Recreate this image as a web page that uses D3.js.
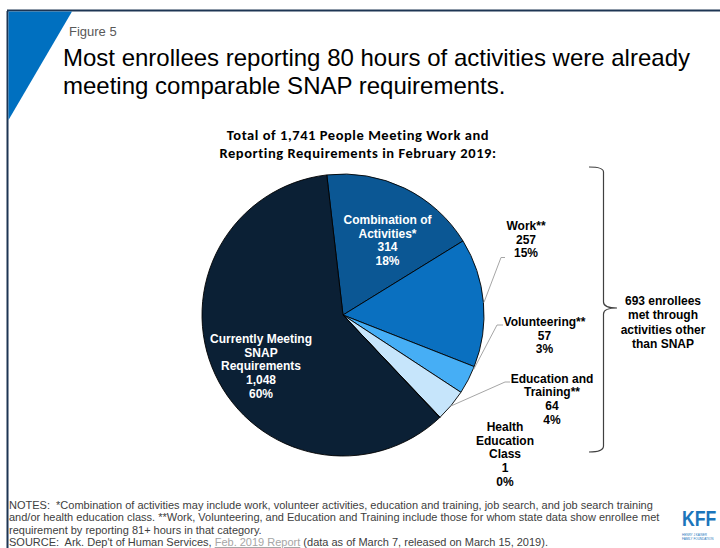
<!DOCTYPE html>
<html>
<head>
<meta charset="utf-8">
<script src="https://cdn.jsdelivr.net/npm/d3@7"></script>
<style>
  html, body { margin: 0; padding: 0; background: #fff; }
  svg { display: block; }
</style>
</head>
<body>
<svg id="chart" width="720" height="548"></svg>
<script>
// ---- data ----
const categories = ["Combination of Activities*", "Work**", "Volunteering**", "Education and Training**", "Health Education Class", "Currently Meeting SNAP Requirements"];
const values = [314, 257, 57, 64, 1, 1048];
const countLabels = ["314", "257", "57", "64", "1", "1,048"];
const pctLabels = ["18%", "15%", "3%", "4%", "0%", "60%"];
const nameLines = [["Combination of", "Activities*"], ["Work**"], ["Volunteering**"], ["Education and", "Training**"], ["Health", "Education", "Class"], ["Currently Meeting", "SNAP", "Requirements"]];
const total = 1741;
const otherTotal = 693;

// ---- styles / layout ----
const colors = ["#0b5794", "#0a70c0", "#46aef5", "#c6e5fb", "#e8f4fd", "#0b2035"];
const svg = d3.select("#chart");
const W = 720, H = 548;
const cx = 343, cy = 315, R = 141;
const startDeg = -6.6;

// frame
svg.append("rect").attr("x", 0).attr("y", 0).attr("width", W).attr("height", H).attr("fill", "#fff");
svg.append("path").attr("d", "M7.5,11 L7.5,548").attr("stroke", "#1d3553").attr("stroke-width", 2).attr("fill", "none");
svg.append("path").attr("d", "M7,10.5 L720,10.5").attr("stroke", "#1d3553").attr("stroke-width", 2).attr("fill", "none");
svg.append("path").attr("d", "M8.5,11.5 L72,11.5 L8.5,120 Z").attr("fill", "#0070c0");

// header
svg.append("text").attr("x", 69).attr("y", 36).attr("font-family", "Liberation Sans, Arial, sans-serif")
  .attr("font-size", 13).attr("fill", "#595959").text("Figure 5");
const title = svg.append("text").attr("font-family", "Liberation Sans, Arial, sans-serif")
  .attr("font-size", 24).attr("fill", "#000");
title.append("tspan").attr("x", 63).attr("y", 65.5).text("Most enrollees reporting 80 hours of activities were already");
title.append("tspan").attr("x", 63).attr("y", 94).text("meeting comparable SNAP requirements.");

const sub = svg.append("text").attr("font-family", "Carlito, Lato, sans-serif").attr("font-weight", 700)
  .attr("font-size", 14.5).attr("letter-spacing", 0.55).attr("text-anchor", "middle").attr("fill", "#000");
sub.append("tspan").attr("x", 358).attr("y", 139.5).text("Total of " + d3.format(",")(total) + " People Meeting Work and");
sub.append("tspan").attr("x", 358).attr("y", 158).text("Reporting Requirements in February 2019:");

// pie
const pie = d3.pie().sort(null).value(d => d)
  .startAngle(startDeg * Math.PI / 180).endAngle((startDeg + 360) * Math.PI / 180);
const arcs = pie(values);
const arc = d3.arc().innerRadius(0).outerRadius(R);
const g = svg.append("g").attr("transform", `translate(${cx},${cy})`);
g.selectAll("path.slice").data(arcs).enter().append("path")
  .attr("class", "slice")
  .attr("d", arc)
  .attr("fill", (d, i) => colors[i])
  .attr("stroke", "#000").attr("stroke-width", 0.9);

// labels: first-baseline/center for each category's label block, and leader elbow
const labelLayout = [
  { x: 387.5, y: 224, fill: "#fff" },
  { x: 526, y: 230, fill: "#000", leader: [[505, 257.5], [501, 257.5]] },
  { x: 544.5, y: 326, fill: "#000", leader: [[503, 325], [497, 325]], angleAdj: -4.5 },
  { x: 552, y: 382.5, fill: "#000", leader: [[510, 382], [505, 382]] },
  { x: 505, y: 431, fill: "#000" },
  { x: 261, y: 343, fill: "#fff" }
];
const lh = 13.7;
const labelG = svg.append("g").attr("font-family", "Liberation Sans, Arial, sans-serif")
  .attr("font-weight", 700).attr("font-size", 12).attr("text-anchor", "middle");
arcs.forEach((a, i) => {
  const L = labelLayout[i];
  const lines = nameLines[i].concat([countLabels[i], pctLabels[i]]);
  const t = labelG.append("text").attr("fill", L.fill);
  lines.forEach((ln, k) => t.append("tspan").attr("x", L.x).attr("y", L.y + k * lh).text(ln));
  if (L.leader) {
    const mid = (a.startAngle + a.endAngle) / 2 + (L.angleAdj || 0) * Math.PI / 180;
    const ex = cx + (R + 0.5) * Math.sin(mid), ey = cy - (R + 0.5) * Math.cos(mid);
    const pts = L.leader.concat([[ex, ey]]);
    svg.append("path").attr("d", d3.line()(pts)).attr("fill", "none")
      .attr("stroke", "#a6a6a6").attr("stroke-width", 1);
  }
});

// brace
svg.append("path")
  .attr("d", "M589,167 Q603.5,167 603.5,172 L603.5,302 Q603.5,308 617,308 Q603.5,308 603.5,314 L603.5,446 Q603.5,452 589,452")
  .attr("fill", "none").attr("stroke", "#404040").attr("stroke-width", 1.2);
const bt = svg.append("text").attr("font-family", "Liberation Sans, Arial, sans-serif").attr("font-weight", 700)
  .attr("font-size", 12).attr("text-anchor", "middle").attr("fill", "#000");
[otherTotal + " enrollees", "met through", "activities other", "than SNAP"].forEach((ln, k) =>
  bt.append("tspan").attr("x", 663).attr("y", 305 + k * 14.4).text(ln));

// notes
const notes = svg.append("text").attr("font-family", "Liberation Sans, Arial, sans-serif")
  .attr("font-size", 11).attr("fill", "#404040").attr("xml:space", "preserve");
notes.append("tspan").attr("x", 9).attr("y", 508.5).text("NOTES:  *Combination of activities may include work, volunteer activities, education and training, job search, and job search training");
notes.append("tspan").attr("x", 9).attr("y", 521).text("and/or health education class. **Work, Volunteering, and Education and Training include those for whom state data show enrollee met");
notes.append("tspan").attr("x", 9).attr("y", 533.5).text("requirement by reporting 81+ hours in that category.");
const l4 = notes.append("tspan").attr("x", 9).attr("y", 546);
l4.text("SOURCE:  Ark. Dep't of Human Services, ");
notes.append("tspan").attr("fill", "#a6a6a6").attr("text-decoration", "underline").text("Feb. 2019 Report");
notes.append("tspan").text(" (data as of March 7, released on March 15, 2019).");

// logo (narrowed with a horizontal scale)
const logo = svg.append("g").attr("transform", "translate(682,0)");
logo.append("text").attr("transform", "translate(0,526) scale(0.8,1)")
  .attr("font-family", "Liberation Sans, Arial, sans-serif")
  .attr("font-weight", 700).attr("font-size", 22).attr("fill", "#1b75bb").text("KFF");
logo.append("text").attr("transform", "translate(0,535.5) scale(0.85,1)")
  .attr("font-family", "Liberation Sans, Arial, sans-serif")
  .attr("font-size", 3.6).attr("fill", "#1b75bb").text("HENRY J KAISER");
logo.append("text").attr("transform", "translate(0,540) scale(0.85,1)")
  .attr("font-family", "Liberation Sans, Arial, sans-serif")
  .attr("font-size", 3.6).attr("fill", "#1b75bb").text("FAMILY FOUNDATION");
</script>
</body>
</html>
